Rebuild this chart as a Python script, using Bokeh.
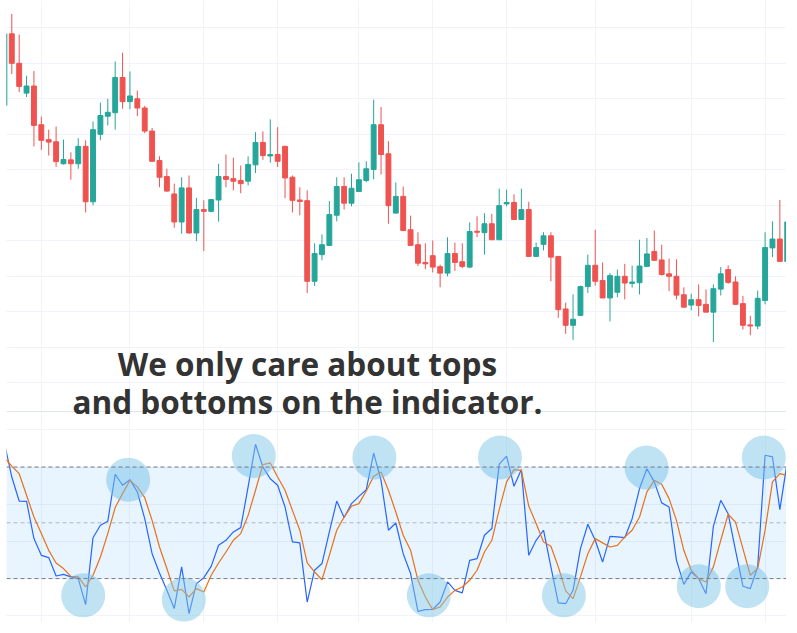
from bokeh.plotting import figure
from bokeh.models import Range1d, Grid, FixedTicker, BoxAnnotation, Span, Label, ColumnDataSource
from bokeh.embed import file_html
from bokeh.resources import INLINE

# ---------------- data ----------------
opens = [178.1, 198.3, 190.0, 181.6, 183.6, 172.7, 168.5, 167.9, 161.7, 162.8,
         161.7, 166.6, 151.0, 170.0, 175.1, 176.1, 186.0, 179.2, 180.0, 177.4,
         170.9, 162.6, 158.1, 153.2, 145.3, 154.9, 142.2, 148.8, 148.3, 151.5,
         158.1, 157.5, 157.0, 156.8, 161.4, 167.7, 163.9, 164.3, 166.6, 157.9,
         151.5, 151.3, 128.6, 136.1, 138.7, 147.2, 155.3, 150.6, 153.9, 157.0,
         160.1, 172.7, 164.5, 147.8, 152.5, 143.1, 138.9, 133.9, 135.8, 132.7,
         130.9, 136.4, 134.1, 132.6, 142.7, 142.3, 144.8, 140.3, 150.4, 150.8,
         146.0, 148.8, 135.6, 139.0, 141.4, 135.6, 120.8, 116.2, 119.0, 127.1,
         133.1, 128.8, 123.9, 125.5, 130.0, 128.0, 128.2, 132.8, 137.0, 134.6,
         130.7, 130.0, 124.8, 121.9, 123.4, 122.1, 119.9, 126.4, 131.9, 128.4,
         122.3, 116.3, 116.0, 123.2, 138.0, 140.5, 134.2]
highs = [199.0, 203.9, 198.1, 186.5, 187.8, 175.0, 171.3, 172.2, 168.5, 164.9,
         168.9, 168.3, 173.6, 178.9, 180.0, 190.5, 193.0, 187.7, 182.3, 178.0,
         171.8, 163.8, 160.3, 156.1, 157.9, 158.4, 152.1, 151.4, 151.7, 161.7,
         164.3, 163.4, 161.2, 163.8, 170.6, 170.8, 174.2, 172.0, 166.8, 158.4,
         155.1, 154.2, 139.3, 141.8, 151.2, 157.9, 157.9, 158.9, 162.1, 162.4,
         179.8, 177.7, 168.1, 156.4, 155.3, 147.1, 142.4, 139.3, 140.1, 133.3,
         141.0, 139.5, 139.3, 145.2, 146.9, 147.8, 147.6, 154.7, 154.4, 153.1,
         154.7, 151.0, 139.5, 142.4, 142.4, 135.6, 122.6, 124.9, 127.4, 136.1,
         143.1, 133.9, 130.9, 131.9, 133.5, 133.0, 140.3, 140.8, 142.9, 138.9,
         135.0, 134.8, 126.9, 125.1, 127.7, 126.3, 127.7, 132.6, 133.1, 130.0,
         124.5, 118.9, 126.0, 142.4, 145.5, 151.5, 147.0]
lows = [177.5, 187.0, 181.9, 180.5, 166.6, 165.6, 164.0, 160.8, 161.5, 157.2,
        160.3, 148.0, 150.0, 168.3, 172.5, 171.3, 177.2, 177.1, 175.1, 170.3,
        162.2, 155.1, 153.8, 143.7, 142.0, 142.0, 139.9, 137.1, 148.1, 145.4,
        155.1, 154.2, 153.4, 155.6, 159.1, 162.8, 162.0, 160.8, 152.0, 148.0,
        147.2, 125.3, 127.3, 134.5, 138.7, 145.5, 148.8, 149.7, 153.9, 156.5,
        157.3, 158.7, 144.8, 147.8, 142.7, 138.7, 132.9, 132.0, 131.1, 126.9,
        130.0, 131.5, 132.3, 132.3, 141.0, 136.1, 140.3, 140.3, 149.7, 146.0,
        146.0, 135.4, 135.6, 137.3, 128.6, 118.3, 113.8, 112.1, 119.0, 125.3,
        127.4, 123.9, 117.3, 124.1, 123.5, 126.8, 124.9, 132.8, 134.5, 130.2,
        125.8, 123.5, 121.3, 120.4, 118.7, 119.9, 111.5, 124.6, 127.9, 122.1,
        115.0, 113.4, 115.1, 122.1, 135.4, 134.2, 134.2]
closes = [198.3, 190.0, 183.5, 183.6, 172.5, 168.3, 167.8, 162.3, 162.9, 161.7,
          166.6, 151.0, 171.3, 175.3, 176.2, 186.0, 179.2, 180.8, 177.4, 170.9,
          162.4, 157.9, 154.0, 145.3, 154.9, 142.2, 148.8, 148.3, 151.6, 158.1,
          157.3, 156.8, 156.1, 161.5, 167.7, 164.0, 164.3, 162.4, 157.7, 151.4,
          151.1, 128.6, 136.4, 138.9, 147.4, 155.3, 150.6, 154.8, 157.2, 160.3,
          172.7, 164.3, 149.9, 152.5, 142.9, 138.7, 133.7, 133.5, 132.6, 130.9,
          136.4, 133.9, 132.8, 142.6, 142.4, 144.8, 140.3, 149.9, 150.8, 146.0,
          148.8, 135.6, 138.1, 141.4, 135.4, 120.6, 116.2, 117.9, 127.1, 133.1,
          128.6, 123.9, 130.2, 130.0, 128.1, 128.4, 132.9, 136.3, 134.5, 130.5,
          130.0, 124.7, 121.3, 123.4, 121.8, 119.9, 126.5, 130.7, 128.3, 122.1,
          116.2, 116.0, 123.8, 138.1, 140.5, 134.2, 145.3]

stoch_k = [93, 74.6, 61.7, 61.5, 41.5, 32.5, 31.3, 21.4, 22.3, 20.9,
           20.0, 6.0, 42.0, 48.7, 50.8, 76.1, 70.2, 73.2, 66.6, 52.2,
           33.4, 23.0, 13.7, 3.9, 26.3, 1.2, 17.3, 20.5, 26.6, 37.9,
           40.6, 45.1, 47.4, 69.3, 92.2, 80.0, 73.7, 70.2, 58.5, 39.7,
           39.2, 7.4, 24.5, 28.1, 45.1, 61.7, 52.8, 60.3, 64.2, 67.8,
           87.5, 72.8, 46.0, 49.9, 33.4, 22.7, 2.4, 3.3, 3.5, 7.4,
           18.2, 13.7, 12.3, 29.8, 30.7, 43.3, 46.9, 81.5, 85.8, 69.6,
           78.6, 32.5, 40.6, 46.0, 26.3, 6.9, 6.5, 13.7, 36.1, 49.2,
           40.6, 28.9, 42.7, 42.4, 42.0, 52.2, 68.4, 79.1, 72.0, 60.7,
           58.5, 29.8, 16.9, 23.6, 20.0, 11.9, 48.1, 62.1, 54.9, 35.2,
           15.9, 14.6, 26.3, 86.3, 85.4, 57.1, 82.7]
stoch_d = [85, 80.5, 76.4, 64.8, 53.1, 44.2, 35.2, 28.4, 25.4, 21.2,
           20.9, 15.5, 21.8, 31.6, 44.2, 58.2, 65.7, 72.8, 69.3, 63.5,
           51.3, 37.0, 25.4, 13.4, 14.2, 10.1, 14.6, 12.8, 21.8, 28.4,
           34.3, 40.6, 44.2, 54.0, 67.5, 81.3, 82.2, 74.6, 67.5, 56.7,
           46.0, 28.4, 23.6, 19.4, 32.5, 46.0, 53.1, 58.9, 60.3, 67.1,
           75.0, 77.3, 67.5, 55.8, 43.3, 35.2, 19.1, 10.1, 3.3, 4.8,
           10.1, 13.7, 15.5, 19.1, 24.5, 34.3, 40.6, 57.1, 72.0, 78.6,
           78.2, 59.0, 49.6, 39.7, 37.4, 26.3, 13.4, 9.2, 20.9, 33.4,
           41.5, 39.2, 37.0, 37.9, 42.4, 46.0, 53.1, 66.6, 72.8, 70.7,
           63.0, 51.3, 35.2, 24.5, 20.0, 18.2, 26.3, 40.6, 54.6, 50.4,
           36.1, 21.8, 25.4, 46.0, 72.0, 76.4, 75.5]

# highlighted tops / bottoms (bar index, oscillator value)
marker_x = [11.67, 17.76, 25.29, 34.77, 51.1, 58.47, 68.1, 76.76, 87.95, 95.03, 101.58, 103.83]
marker_y = [11.0, 73.2, 8.7, 85.9, 85.1, 11.0, 85.1, 11.0, 79.7, 15.9, 15.9, 85.1]

time_grid = [6, 18, 28, 38, 49, 59, 69, 81, 94, 104]
price_grid = [100, 110, 120, 130, 140, 150, 160, 170, 180, 190, 200]
osc_grid = [0, 20, 40, 60, 80, 100]
band_upper, band_mid, band_lower = 80, 50, 20

# ---------------- chart ----------------
UP, DOWN = "#26A69A", "#EF5350"
idx = list(range(1, len(opens) + 1))
colors = [UP if c >= o else DOWN for o, c in zip(opens, closes)]
src = ColumnDataSource(dict(
    x=idx, o=opens, h=highs, l=lows, c=closes,
    top=[max(o, c) for o, c in zip(opens, closes)],
    bot=[min(o, c) for o, c in zip(opens, closes)],
    color=colors))

p = figure(width=786, height=622, x_range=Range1d(1.284, 106.9),
           y_range=Range1d(32.48, 207.69),
           x_axis_type=None, y_axis_type=None,
           toolbar_location=None, output_backend="svg",
           min_border=0, min_border_left=6, outline_line_color=None,
           background_fill_color="white", border_fill_color="white")
p.extra_y_ranges = {"osc": Range1d(-3.6, 330.8)}

GRID = "#F0F3FA"
p.add_layout(Grid(dimension=0, ticker=FixedTicker(ticks=time_grid), grid_line_color=GRID))
p.add_layout(Grid(dimension=1, ticker=FixedTicker(ticks=price_grid), grid_line_color=GRID))
p.add_layout(Grid(dimension=1, y_range_name="osc", ticker=FixedTicker(ticks=osc_grid), grid_line_color=GRID))

# pane separator
p.add_layout(Span(location=109.8, dimension="width", y_range_name="osc",
                  line_color="#E0E3EB", line_width=1))

# candles
p.segment(x0="x", y0="l", x1="x", y1="h", color="color", line_width=1, source=src)
p.vbar(x="x", width=0.66, top="top", bottom="bot", fill_color="color",
       line_color="color", line_width=1, source=src)

# oscillator band
p.add_layout(BoxAnnotation(bottom=band_lower, top=band_upper, y_range_name="osc",
                           fill_color="#2196F3", fill_alpha=0.1, line_color=None))
p.add_layout(Span(location=band_upper, dimension="width", y_range_name="osc",
                  line_color="#787B86", line_dash="4 3", line_width=1))
p.add_layout(Span(location=band_mid, dimension="width", y_range_name="osc",
                  line_color="#787B86", line_alpha=0.5, line_dash="4 3", line_width=1))
p.add_layout(Span(location=band_lower, dimension="width", y_range_name="osc",
                  line_color="#787B86", line_dash="4 3", line_width=1))

p.line(idx, stoch_k, y_range_name="osc", line_color="#2962FF", line_width=1.2)
p.line(idx, stoch_d, y_range_name="osc", line_color="#FF6D00", line_width=1.2)

p.scatter(marker_x, marker_y, y_range_name="osc", size=44, marker="circle",
          fill_color="#7FC8E8", fill_alpha=0.5, line_color=None)

for txt, yy in [("We only care about tops", 105.5), ("and bottoms on the indicator.", 94.7)]:
    p.add_layout(Label(x=42.04, y=yy, text=txt, text_align="center",
                       text_baseline="alphabetic", text_font="Open Sans",
                       text_font_style="bold", text_font_size="31.5px",
                       text_color="#333333", level="overlay"))

open("out.html", "w").write(file_html(p, INLINE))
